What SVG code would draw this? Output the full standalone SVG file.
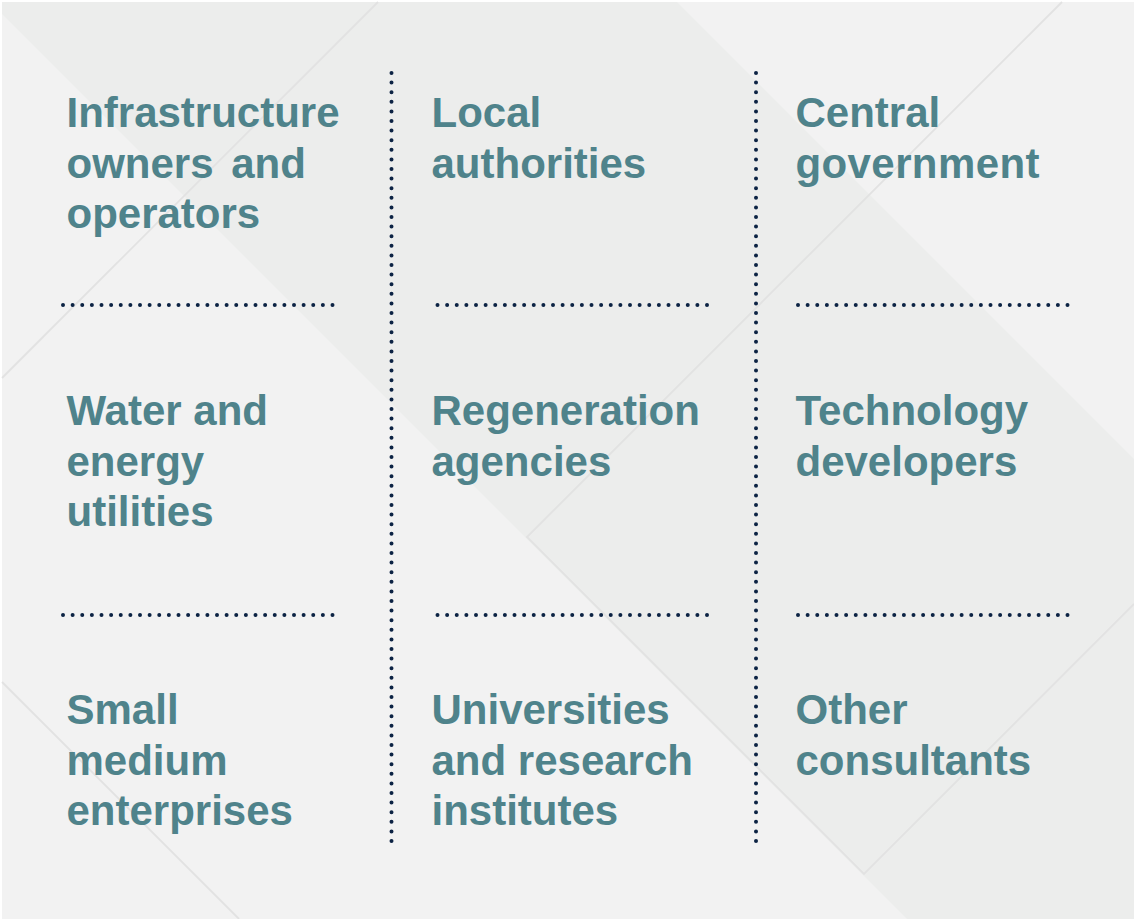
<svg xmlns="http://www.w3.org/2000/svg" width="1134" height="919" viewBox="0 0 1134 919">
  <style>
    .lbl { font-family: "Liberation Sans", Arial, sans-serif; font-weight: bold; font-size: 42px; fill: #4f838b; }
    .hdot { fill: none; stroke: #0c2344; stroke-width: 4; stroke-linecap: round; stroke-dasharray: 0 9.625; }
    .vdot { fill: none; stroke: #0c2344; stroke-width: 4; stroke-linecap: round; stroke-dasharray: 0 9.6; }
    .thin { fill: none; stroke: #e2e2e2; stroke-width: 1.8; }
  </style>
  <g id="background">
    <rect x="0" y="0" width="1134" height="919" fill="#ffffff"/>
    <rect x="2" y="2" width="1132" height="917" fill="#f2f2f2"/>
    <polygon points="2,2 677,2 1134,459 1134,919 907,919 2,14" fill="#ecedec"/>
    <path class="thin" d="M378 2 L2 378"/>
    <path class="thin" d="M1062 2 L527 537 L864 874 L1134 604"/>
    <path class="thin" d="M2 682 L239 919"/>
  </g>
  <g id="connectors">
    <path class="vdot" d="M391.5 73 V842"/>
    <path class="vdot" d="M756 73 V842"/>
    <path class="hdot" d="M63 305 H334"/>
    <path class="hdot" d="M437.5 305 H708"/>
    <path class="hdot" d="M798 305 H1069"/>
    <path class="hdot" d="M63 615 H334"/>
    <path class="hdot" d="M437.5 615 H708"/>
    <path class="hdot" d="M798 615 H1069"/>
  </g>
  <g id="infrastructure">
    <text class="lbl" x="66.5" y="127">Infrastructure</text>
    <text class="lbl" x="66.5" y="177.7" word-spacing="6">owners and</text>
    <text class="lbl" x="66.5" y="228.4">operators</text>
  </g>
  <g id="local-authorities">
    <text class="lbl" x="431.5" y="127">Local</text>
    <text class="lbl" x="431.5" y="177.7">authorities</text>
  </g>
  <g id="central-government">
    <text class="lbl" x="795.5" y="127">Central</text>
    <text class="lbl" x="795.5" y="177.7" letter-spacing="0.4">government</text>
  </g>
  <g id="water-energy">
    <text class="lbl" x="66.5" y="425">Water and</text>
    <text class="lbl" x="66.5" y="475.7">energy</text>
    <text class="lbl" x="66.5" y="526.4">utilities</text>
  </g>
  <g id="regeneration">
    <text class="lbl" x="431.5" y="425">Regeneration</text>
    <text class="lbl" x="431.5" y="475.7">agencies</text>
  </g>
  <g id="technology">
    <text class="lbl" x="795.5" y="425">Technology</text>
    <text class="lbl" x="795.5" y="475.7">developers</text>
  </g>
  <g id="sme">
    <text class="lbl" x="66.5" y="724">Small</text>
    <text class="lbl" x="66.5" y="774.7">medium</text>
    <text class="lbl" x="66.5" y="825.4">enterprises</text>
  </g>
  <g id="universities">
    <text class="lbl" x="431.5" y="724">Universities</text>
    <text class="lbl" x="431.5" y="774.7">and research</text>
    <text class="lbl" x="431.5" y="825.4">institutes</text>
  </g>
  <g id="consultants">
    <text class="lbl" x="795.5" y="724">Other</text>
    <text class="lbl" x="795.5" y="774.7">consultants</text>
  </g>
</svg>
